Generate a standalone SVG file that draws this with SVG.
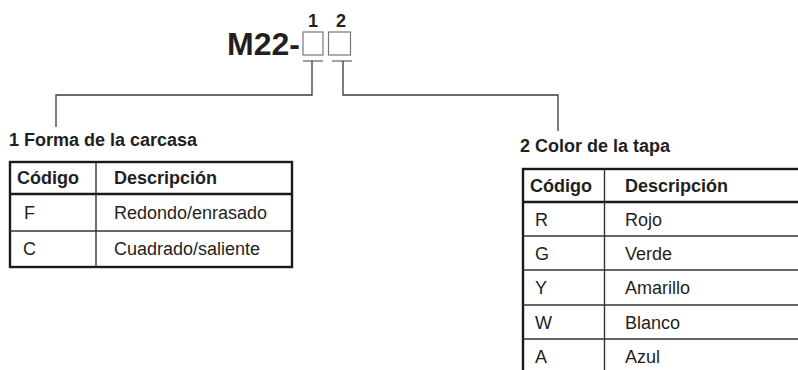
<svg xmlns="http://www.w3.org/2000/svg" width="798" height="370" viewBox="0 0 798 370">
<style>
text{font-family:"Liberation Sans",Arial,sans-serif;fill:#231f20}
.b{font-weight:bold}
.t{font-size:18px}
.conn{stroke:#3a3a3a;stroke-width:1.3;fill:none}
.bar{stroke:#8a8a8a;stroke-width:1.6;fill:none}
.box{stroke:#777;stroke-width:1.2;fill:none}
.outer{stroke:#1a1a1a;stroke-width:2.4;fill:none}
.thick{stroke:#1a1a1a;stroke-width:2.4}
.thin{stroke:#333;stroke-width:1.4}
</style>
<rect width="798" height="370" fill="#fff"/>
<g id="code">
<text x="227" y="55" class="b" font-size="32">M22-</text>
<rect class="box" x="303" y="32" width="20" height="23"/>
<rect class="box" x="328.5" y="32" width="22" height="23"/>
<text x="313" y="27" class="b" font-size="18" text-anchor="middle">1</text>
<text x="341" y="27" class="b" font-size="18" text-anchor="middle">2</text>
<line class="bar" x1="303" y1="61" x2="323" y2="61"/>
<line class="bar" x1="332" y1="61" x2="352" y2="61"/>
</g>
<g id="connectors">
<polyline class="conn" points="312,61 312,95 56,95 56,127"/>
<polyline class="conn" points="343,61 343,95 558,95 558,131"/>
</g>
<g id="table1">
<text x="9" y="146" class="b t">1 Forma de la carcasa</text>
<rect class="outer" x="10" y="162" width="282" height="105"/>
<line class="thick" x1="10" y1="194" x2="292" y2="194"/>
<line class="thin" x1="10" y1="231" x2="292" y2="231"/>
<line class="thin" x1="96" y1="162" x2="96" y2="267"/>
<text x="17" y="184" class="b t">Código</text>
<text x="114" y="184" class="b t">Descripción</text>
<text x="24" y="219" class="t">F</text>
<text x="114" y="219" class="t">Redondo/enrasado</text>
<text x="23" y="255" class="t">C</text>
<text x="114" y="255" class="t">Cuadrado/saliente</text>
</g>
<g id="table2">
<text x="520" y="152" class="b t">2 Color de la tapa</text>
<rect class="outer" x="523" y="169" width="290" height="215"/>
<line class="thick" x1="523" y1="202" x2="798" y2="202"/>
<line class="thin" x1="523" y1="236" x2="798" y2="236"/>
<line class="thin" x1="523" y1="270" x2="798" y2="270"/>
<line class="thin" x1="523" y1="305" x2="798" y2="305"/>
<line class="thin" x1="523" y1="339" x2="798" y2="339"/>
<line class="thin" x1="604.5" y1="169" x2="604.5" y2="370"/>
<text x="530" y="191.5" class="b t">Código</text>
<text x="625" y="191.5" class="b t">Descripción</text>
<text x="535" y="225.5" class="t">R</text>
<text x="625" y="225.5" class="t">Rojo</text>
<text x="535" y="259.5" class="t">G</text>
<text x="625" y="259.5" class="t">Verde</text>
<text x="535" y="294" class="t">Y</text>
<text x="625" y="294" class="t">Amarillo</text>
<text x="535" y="328.5" class="t">W</text>
<text x="625" y="328.5" class="t">Blanco</text>
<text x="535" y="363" class="t">A</text>
<text x="625" y="363" class="t">Azul</text>
</g>
</svg>
